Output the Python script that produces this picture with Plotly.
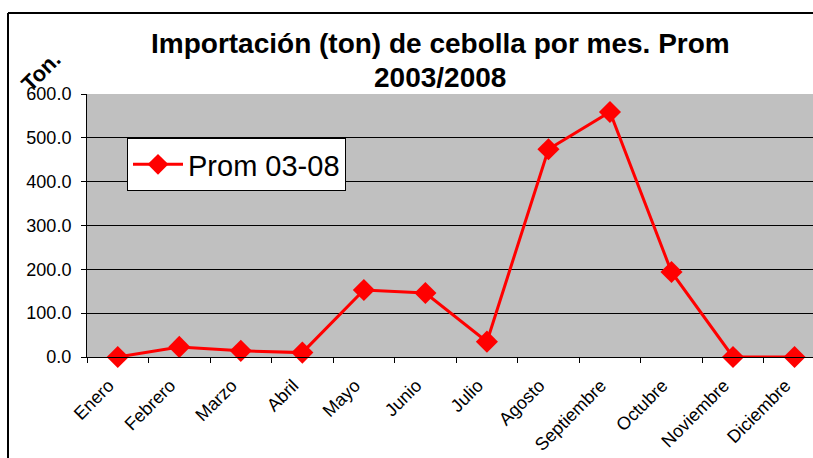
import plotly.graph_objects as go

months = ["Enero", "Febrero", "Marzo", "Abril", "Mayo", "Junio", "Julio",
          "Agosto", "Septiembre", "Octubre", "Noviembre", "Diciembre"]
prom_03_08 = [0.0, 23.0, 14.0, 10.0, 153.0, 146.0, 35.0, 474.0, 559.0, 194.0, 0.0, 0.0]
series_name = "Prom 03-08"
title_line1 = "Importación (ton) de cebolla por mes. Prom"
title_line2 = "2003/2008"
y_label = "Ton."

FONT = "Liberation Sans, Arial, sans-serif"

fig = go.Figure()
fig.add_trace(go.Scatter(
    x=months, y=prom_03_08, name=series_name, mode="lines+markers",
    line=dict(color="#FF0000", width=3),
    marker=dict(symbol="diamond", size=17, color="#FF0000"),
    cliponaxis=False,
))

W, H = 813, 458
L, T, B = 87, 94, 101
plot_w = W - L
plot_h = H - T - B

def px_x(px):
    return (px - L) / plot_w

def px_y(py):
    return (H - B - py) / plot_h

fig.update_layout(
    width=W, height=H,
    margin=dict(l=L, r=0, t=T, b=B, autoexpand=False),
    paper_bgcolor="white",
    plot_bgcolor="#C0C0C0",
    font=dict(family=FONT, color="black", size=18),
    showlegend=True,
    legend=dict(
        x=px_x(127), y=px_y(138), xanchor="left", yanchor="top",
        bgcolor="white", bordercolor="black", borderwidth=1,
        font=dict(size=29, family=FONT),
        itemwidth=50,
    ),
    xaxis=dict(
        type="category",
        range=[-0.5, 11.3],
        tickson="boundaries",
        ticks="outside", ticklen=5, tickcolor="black",
        tickangle=-45,
        ticklabelstandoff=10,
        ticklabelshift=-9,
        showline=True, linecolor="black", linewidth=1,
        showgrid=False,
        tickfont=dict(size=18, family=FONT),
    ),
    yaxis=dict(
        range=[0, 600], dtick=100, tickformat=".1f",
        ticks="outside", ticklen=5, tickcolor="black",
        ticklabelstandoff=6,
        showline=True, linecolor="black", linewidth=1,
        showgrid=True, gridcolor="black", gridwidth=1,
        zeroline=False,
        tickfont=dict(size=18, family=FONT),
    ),
    annotations=[
        dict(text="<b>%s</b>" % title_line1, xref="paper", yref="paper",
             x=px_x(440), y=px_y(43), xanchor="center", yanchor="middle",
             showarrow=False, font=dict(size=28, family=FONT)),
        dict(text="<b>%s</b>" % title_line2, xref="paper", yref="paper",
             x=px_x(440), y=px_y(78), xanchor="center", yanchor="middle",
             showarrow=False, font=dict(size=28, family=FONT)),
        dict(text="<b>%s</b>" % y_label, xref="paper", yref="paper",
             x=px_x(41), y=px_y(72), xanchor="center", yanchor="middle",
             textangle=-45, showarrow=False, font=dict(size=22, family=FONT)),
    ],
    shapes=[
        dict(type="line", xref="paper", yref="paper",
             x0=px_x(8), x1=px_x(8), y0=px_y(13), y1=px_y(470),
             line=dict(color="black", width=2)),
        dict(type="line", xref="paper", yref="paper",
             x0=px_x(8), x1=px_x(830), y0=px_y(13), y1=px_y(13),
             line=dict(color="black", width=2)),
    ],
)

fig.write_html("out.html", config={"displayModeBar": False},
               post_script="document.body.style.margin='0';")
